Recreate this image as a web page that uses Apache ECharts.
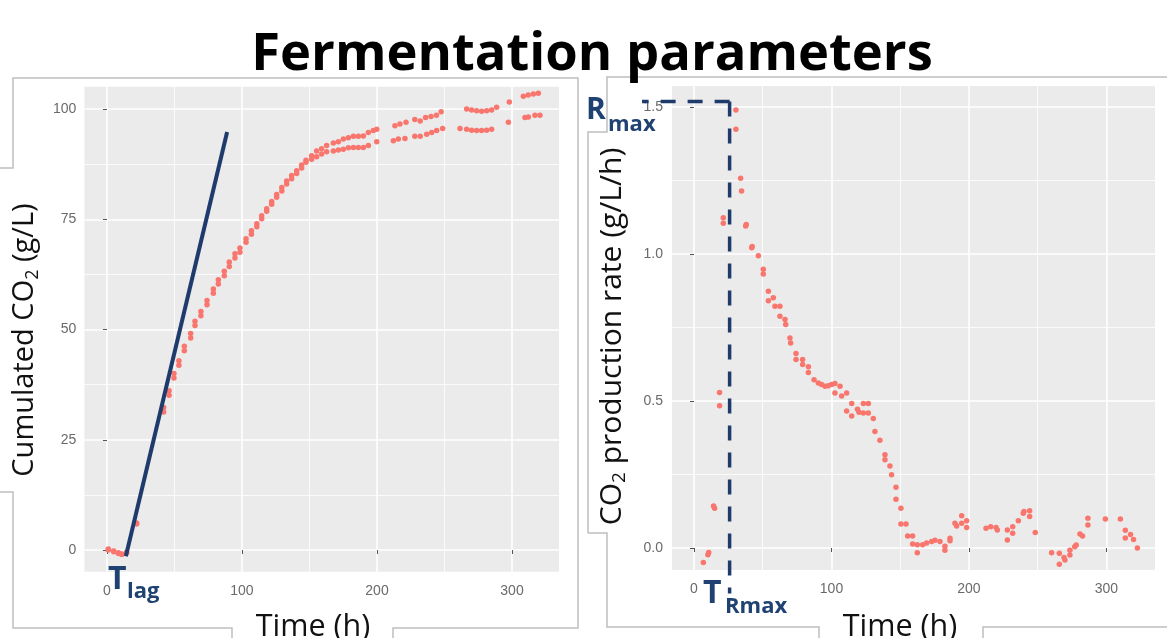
<!DOCTYPE html>
<html><head><meta charset="utf-8">
<script src="https://cdn.jsdelivr.net/npm/echarts@6/dist/echarts.min.js"></script>
<style>html,body{margin:0;padding:0;background:#fff}#c{width:1167px;height:638px}</style>
</head><body><div id="c"></div>
<script>
// ---- Data ----
// Cumulated CO2 (g/L), replicate A (upper curve) and B (lower curve)
const cumTimeA = [1, 5, 8.5, 11, 14.5, 22, 42, 46, 49.6, 53.3, 57.3, 62, 65.2, 69.6, 74.1, 78.8, 82.5, 86.9, 90.6, 94.8, 98.5, 103, 107, 111, 114.6, 118.3, 122, 125.7, 129.5, 133.1, 136.8, 140.5, 144.2, 147.4, 151.6, 155.3, 159, 162.7, 167.7, 171.4, 175.1, 178.8, 182.5, 186.2, 189.9, 193.6, 197.3, 199.8, 213.3, 217, 221.5, 228, 232, 236, 240, 244, 247.5, 266.4, 270.1, 273.8, 277.5, 281.2, 284.9, 288.6, 298, 308.4, 312, 315.8, 319.5];
const cumA = [0.2, -0.2, -0.6, -0.9, -0.5, 6.1, 32.3, 36.1, 40, 42.9, 46.2, 49.1, 51.9, 54.1, 56.6, 59.2, 61.3, 63.2, 65.3, 67.2, 68.5, 70.6, 72.4, 74, 75.8, 77.4, 79, 80.6, 82.2, 83.7, 84.9, 86, 87.3, 88.4, 89.4, 90.5, 91, 91.7, 92.3, 92.6, 93.2, 93.5, 93.8, 93.8, 93.9, 94.7, 95.1, 95.4, 96.2, 96.6, 97, 97.6, 97.3, 98.1, 98.3, 98.6, 99.4, 100, 99.8, 99.6, 99.5, 99.6, 99.8, 100.4, 101.6, 102.9, 103.2, 103.4, 103.6];
const cumTimeB = [1, 5, 8.5, 11, 14.5, 22, 42, 46, 49.6, 53.3, 57.3, 62, 65.2, 69.6, 74.1, 78.8, 82.5, 86.9, 90.6, 94.8, 98.5, 103, 107, 111, 114.6, 118.3, 122, 125.7, 129.5, 133.1, 136.8, 140.5, 144.2, 147.4, 151.6, 155.3, 159, 162.7, 167.7, 171.4, 175.1, 178.8, 182.5, 186.2, 189.9, 193.6, 199.8, 212.1, 215.8, 220.7, 228, 232, 236.8, 240.5, 244.2, 248.6, 261.5, 266.4, 270.1, 273.8, 277.5, 281.2, 284.9, 297.3, 309.6, 312.1, 317, 320.7];
const cumB = [0, -0.4, -0.8, -1.0, -0.7, 5.9, 31.3, 35.1, 39, 41.9, 45.2, 48.1, 50.9, 53.1, 55.6, 58.2, 60.3, 62.2, 64.3, 66.2, 67.5, 69.8, 71.6, 73.3, 75.1, 76.8, 78.4, 80, 81.4, 83, 84.2, 85.4, 86.6, 87.9, 88.6, 89.2, 89.8, 90.3, 90.5, 90.7, 90.9, 91.2, 91.3, 91.3, 91.3, 91.7, 92.6, 92.8, 93.2, 93.3, 93.8, 93.8, 94.3, 94.7, 95.1, 95.6, 95.6, 95.4, 95.2, 95.1, 95.1, 95.2, 95.4, 97, 98.1, 98.2, 98.6, 98.6];

// CO2 production rate (g/L/h)
const rateTime = [6.8, 10.1, 10.7, 14.2, 15, 18.6, 18.6, 21.3, 21.3, 30.5, 30.5, 33.9, 34.6, 37.6, 38, 42, 42.3, 46.8, 50.4, 50.4, 54.1, 54.1, 57.7, 58.9, 62.5, 62.5, 66.2, 66.7, 69.8, 70.3, 74.2, 74.2, 79, 79, 83.2, 83.2, 87.3, 90.4, 92.8, 95.3, 97.7, 100.1, 102.5, 102.5, 106.2, 107.4, 111, 111, 114.7, 114.7, 118.9, 120, 123.2, 123.2, 126.8, 126.8, 130.4, 131.6, 135.2, 138.9, 138.9, 142.5, 143.7, 146.9, 146.9, 150.5, 150.5, 154.2, 155.4, 159, 159, 162.4, 162.4, 166.3, 169.2, 172.9, 175.3, 178.9, 182.5, 182.5, 186.2, 186.2, 189.8, 191, 194.7, 194.7, 198.3, 198.3, 212.4, 215.8, 219.7, 220.6, 227.9, 227.9, 231.8, 231.8, 235.9, 239.5, 240, 244.1, 244.1, 248.2, 260.1, 265.7, 265.7, 269.1, 269.8, 273.4, 273.4, 276.9, 278, 280.7, 282.6, 286.5, 286.5, 299.2, 310.1, 313.7, 313.7, 317.5, 319.7, 322.5];
const rate = [-0.049, -0.023, -0.015, 0.143, 0.135, 0.529, 0.484, 1.123, 1.104, 1.489, 1.424, 1.257, 1.214, 1.095, 1.100, 1.021, 1.025, 0.994, 0.948, 0.932, 0.873, 0.841, 0.851, 0.822, 0.822, 0.788, 0.777, 0.760, 0.714, 0.697, 0.661, 0.641, 0.641, 0.624, 0.616, 0.597, 0.572, 0.561, 0.556, 0.550, 0.552, 0.556, 0.559, 0.527, 0.550, 0.517, 0.527, 0.466, 0.491, 0.449, 0.472, 0.462, 0.491, 0.459, 0.491, 0.459, 0.440, 0.396, 0.366, 0.317, 0.300, 0.279, 0.249, 0.207, 0.166, 0.135, 0.082, 0.082, 0.041, 0.041, 0.014, 0.011, -0.016, 0.011, 0.017, 0.022, 0.026, 0.022, 0.006, -0.008, 0.025, 0.033, 0.084, 0.075, 0.110, 0.084, 0.093, 0.070, 0.067, 0.072, 0.070, 0.061, 0.061, 0.027, 0.072, 0.050, 0.093, 0.118, 0.124, 0.127, 0.107, 0.053, -0.016, -0.018, -0.055, -0.032, -0.041, -0.024, -0.008, 0.004, 0.010, 0.048, 0.041, 0.101, 0.078, 0.099, 0.099, 0.060, 0.034, 0.046, 0.029, 0.000];

// Tick values
const timeTicks = [0, 100, 200, 300];
const timeMinor = [50, 150, 250];
const cumTicks = [0, 25, 50, 75, 100];
const cumMinor = [12.5, 37.5, 62.5, 87.5];
const rateTicks = [0, 0.5, 1.0, 1.5];
const rateMinor = [0.25, 0.75, 1.25];

// Annotations (data units)
const tangentTime = [14, 89];
const tangentValue = [-1.4, 94.8];
const tRmax = 25.9;
const rMax = 1.518;
const rmaxGuideStartTime = -37.8;
const rmaxGuideEndRate = -0.155;

// Axis extents (ggplot expanded ranges)
const cumTimeRange = [-16.7, 334.8];
const cumRange = [-4.92, 105.06];
const rateTimeRange = [-16, 335.3];
const rateRange = [-0.0748, 1.571];

const zip = (a, b) => a.map((t, i) => [t, b[i]]);

const POINT = '#F8766D';
const NAVY = '#1f3b6b';
const ANN = '#1f4272';
const FRAME = '#bfbfbf';
const tickLabel = { color: '#6a6a6a', fontSize: 14, fontFamily: 'Liberation Sans, Arial, sans-serif' };

function mainAxis(grid, range, ticks, fmt, margin) {
  return {
    type: 'value', gridIndex: grid, min: range[0], max: range[1],
    axisLine: { show: false },
    axisTick: { show: true, length: 4, customValues: ticks, lineStyle: { color: '#555', width: 1 } },
    axisLabel: Object.assign({ customValues: ticks, margin: margin, formatter: fmt }, tickLabel),
    splitLine: { show: true, lineStyle: { color: '#ffffff', width: 1.6 } },
    minorTick: { show: false }, minorSplitLine: { show: false }
  };
}
function minorAxis(grid, range, ticks) {
  return {
    type: 'value', gridIndex: grid, min: range[0], max: range[1],
    axisLine: { show: false },
    axisTick: { show: false, customValues: ticks },
    axisLabel: { show: false },
    splitLine: { show: true, lineStyle: { color: '#ffffff', width: 0.8 } }
  };
}

const chart = echarts.init(document.getElementById('c'), null, { renderer: 'canvas' });

const OS = 'Open Sans, sans-serif';
function txt(x, y, text, size, weight, color, align) {
  return {
    type: 'text', x: x, y: y, silent: true, z: 10,
    style: { text: text, fontFamily: OS, fontSize: size, fontWeight: weight, fill: color, align: align || 'left', verticalAlign: 'middle' }
  };
}
function rotLabel(x, y, parts, size) {
  return {
    type: 'text', x: x, y: y, rotation: Math.PI / 2, silent: true, z: 10,
    style: {
      text: parts, fontFamily: OS, fontSize: size, fill: '#111', align: 'center', verticalAlign: 'middle',
      rich: {
        m: { fontFamily: OS, fontSize: size, fill: '#111', lineHeight: 35, verticalAlign: 'middle' },
        s: { fontFamily: OS, fontSize: Math.round(size * 0.62), fill: '#111', lineHeight: 13, verticalAlign: 'bottom' }
      }
    }
  };
}
function poly(points) {
  return { type: 'polyline', silent: true, z: 1, shape: { points: points }, style: { stroke: FRAME, lineWidth: 1.5, fill: null } };
}

const option = {
  animation: false,
  backgroundColor: '#ffffff',
  grid: [
    { left: 84.4, top: 86.7, width: 474.6, height: 485, show: true, backgroundColor: '#EBEBEB', borderWidth: 0, containLabel: false },
    { left: 672, top: 86, width: 483, height: 484, show: true, backgroundColor: '#EBEBEB', borderWidth: 0, containLabel: false }
  ],
  xAxis: [
    mainAxis(0, cumTimeRange, timeTicks, null, 12),
    minorAxis(0, cumTimeRange, timeMinor),
    mainAxis(1, rateTimeRange, timeTicks, null, 12),
    minorAxis(1, rateTimeRange, timeMinor)
  ],
  yAxis: [
    mainAxis(0, cumRange, cumTicks, null, 8),
    minorAxis(0, cumRange, cumMinor),
    mainAxis(1, rateRange, rateTicks, v => v.toFixed(1), 9),
    minorAxis(1, rateRange, rateMinor)
  ],
  series: [
    { type: 'scatter', xAxisIndex: 0, yAxisIndex: 0, data: zip(cumTimeA, cumA), symbolSize: 5.5, itemStyle: { color: POINT, opacity: 1 }, z: 3 },
    { type: 'scatter', xAxisIndex: 0, yAxisIndex: 0, data: zip(cumTimeB, cumB), symbolSize: 5.5, itemStyle: { color: POINT, opacity: 1 }, z: 3 },
    { type: 'line', xAxisIndex: 0, yAxisIndex: 0, data: zip(tangentTime, tangentValue), symbol: 'none', clip: false,
      lineStyle: { color: NAVY, width: 4 }, z: 5 },
    { type: 'scatter', xAxisIndex: 2, yAxisIndex: 2, data: zip(rateTime, rate), symbolSize: 5.5, itemStyle: { color: POINT, opacity: 1 }, z: 3 }
  ],
  graphic: [
    // frames of the two picture boxes
    poly([[0, 168], [13, 168], [13, 78], [578, 78], [578, 628], [393, 628], [393, 640]]),
    poly([[232, 640], [232, 628], [13, 628], [13, 492], [0, 492]]),
    poly([[588, 533], [588, 132], [607, 132], [607, 77], [1167, 77]]),
    poly([[588, 533], [607, 533], [607, 627], [819, 627], [819, 640]]),
    poly([[983, 640], [983, 627], [1167, 627]]),
    // title
    txt(592, 55.5, 'Fermentation parameters', 52.5, 'bold', '#000', 'center'),
    // axis titles
    rotLabel(24.5, 340, '{m|Cumulated CO}{s|2}{m| (g/L)}', 29),
    rotLabel(612, 336.5, '{m|CO}{s|2}{m| production rate (g/L/h)}', 30),
    txt(313, 627.5, 'Time (h)', 30.5, 'normal', '#111', 'center'),
    txt(900, 627.5, 'Time (h)', 30.5, 'normal', '#111', 'center'),
    // annotation labels
    txt(108, 579.6, 'T', 32, 'bold', ANN),
    txt(127, 591.5, 'lag', 22, 'bold', ANN),
    txt(586, 110.4, 'R', 30, 'bold', ANN),
    txt(608, 124.5, 'max', 22, 'bold', ANN),
    txt(703, 594, 'T', 32, 'bold', ANN),
    txt(725, 606.5, 'Rmax', 22, 'bold', ANN)
  ]
};
chart.setOption(option);

// Rmax / T_Rmax dashed guides, placed through the rate panel's own scales
const toPx = (t, v) => chart.convertToPixel({ xAxisIndex: 2, yAxisIndex: 2 }, [t, v]);
const corner = toPx(tRmax, rMax);
const hEnd = toPx(rmaxGuideStartTime, rMax);
const vEnd = toPx(tRmax, rmaxGuideEndRate);
const guide = (a, b) => ({
  type: 'polyline', silent: true, z: 20,
  shape: { points: [a, b] },
  style: { stroke: NAVY, lineWidth: 3.5, lineDash: [15, 12], fill: null }
});
option.graphic.push(guide(corner, hEnd), guide(corner, vEnd));
chart.setOption(option, true);
</script>
</body></html>
